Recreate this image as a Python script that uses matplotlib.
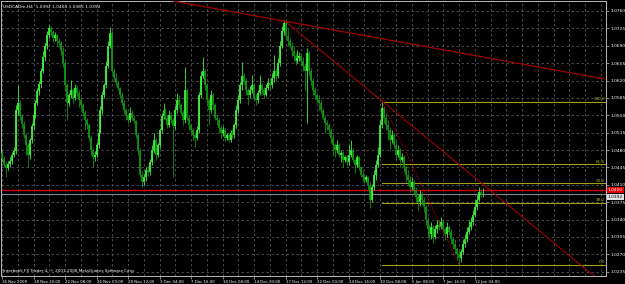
import numpy as np
import matplotlib
matplotlib.use("Agg")
import matplotlib.pyplot as plt
import matplotlib.transforms as mtransforms

# USDCADm H4, prices in pips above 1.0000 (e.g. 462 -> 1.0462)
first_open = 475
closes = [
    462, 450, 444, 452, 458, 470, 478, 560, 575, 548,
    532, 510, 490, 470, 500, 528, 550, 575, 598, 612,
    640, 668, 690, 712, 725, 718, 705, 712, 700, 695,
    680, 655, 610, 575, 590, 600, 585, 605, 595, 580,
    570, 555, 540, 530, 505, 480, 465, 470, 490, 515,
    560, 590, 610, 650, 690, 715, 640, 625, 615, 605,
    590, 575, 560, 548, 540, 555, 545, 538, 510, 480,
    430, 415, 425, 440, 435, 455, 480, 500, 470, 490,
    520, 548, 560, 545, 530, 550, 540, 528, 560, 580,
    570, 555, 540, 600, 545, 530, 520, 510, 505, 520,
    590, 630, 640, 610, 580, 560, 590, 570, 545, 540,
    525, 515, 520, 505, 510, 500, 515, 510, 530, 560,
    580, 610, 630, 620, 600, 590, 600, 610, 585, 580,
    595, 610, 600, 590, 605, 615, 610, 625, 640, 630,
    655, 690, 720, 735, 710, 700, 690, 680, 670, 660,
    665, 670, 660, 650, 640, 675, 640, 620, 600, 590,
    580, 575, 560, 545, 535, 530, 520, 505, 490, 480,
    490, 470, 475, 460, 465, 455, 470, 480, 460, 450,
    465, 445, 430, 425, 420, 425, 410, 380, 405, 430,
    450, 470, 530, 565, 545, 530, 520, 500, 510, 490,
    470, 480, 460, 465, 445, 430, 420, 405, 415, 400,
    385, 375, 390, 380, 365, 340, 320, 310, 325, 305,
    320, 330, 325, 335, 320, 310, 325, 315, 300, 290,
    280, 270, 262, 275, 290, 300, 315, 325, 335, 350,
    365, 380, 395, 392, 392,
]
highs = [
    480, 468, 456, 458, 466, 476, 486, 570, 611, 580,
    552, 538, 515, 495, 505, 535, 556, 580, 605, 620,
    645, 680, 695, 720, 732, 730, 722, 718, 714, 705,
    700, 688, 660, 615, 595, 621, 604, 612, 610, 600,
    587, 575, 560, 545, 535, 510, 485, 478, 496, 522,
    568, 598, 615, 660, 700, 728, 720, 645, 635, 620,
    607, 596, 580, 565, 552, 567, 560, 550, 540, 515,
    485, 438, 432, 446, 448, 462, 490, 514, 505, 495,
    525, 555, 575, 565, 550, 560, 556, 545, 568, 595,
    590, 575, 560, 647, 605, 550, 535, 525, 515, 528,
    597, 640, 667, 645, 615, 585, 600, 595, 575, 550,
    545, 530, 528, 525, 515, 515, 520, 522, 535, 570,
    590, 617, 657, 635, 625, 605, 608, 631, 615, 592,
    600, 631, 615, 606, 612, 625, 620, 635, 671, 645,
    665, 700, 730, 742, 738, 726, 705, 698, 690, 676,
    681, 678, 675, 668, 655, 686, 680, 645, 625, 607,
    595, 590, 581, 565, 550, 540, 535, 525, 510, 495,
    500, 494, 480, 478, 470, 470, 490, 500, 485, 462,
    470, 468, 448, 440, 432, 430, 428, 415, 412, 440,
    460, 486, 540, 577, 568, 555, 540, 525, 520, 515,
    500, 490, 485, 475, 470, 450, 440, 428, 425, 420,
    405, 392, 400, 395, 385, 370, 345, 330, 335, 330,
    330, 339, 340, 345, 340, 325, 335, 330, 320, 305,
    300, 285, 276, 280, 300, 310, 325, 339, 345, 360,
    379, 390, 405, 402, 404,
]
lows = [
    455, 445, 426, 440, 446, 452, 465, 472, 550, 540,
    525, 505, 470, 446, 462, 495, 522, 545, 570, 590,
    605, 635, 660, 684, 705, 710, 698, 700, 692, 688,
    672, 648, 600, 540, 568, 585, 575, 580, 588, 567,
    562, 548, 520, 522, 498, 470, 446, 458, 465, 485,
    514, 552, 585, 605, 645, 685, 635, 618, 608, 600,
    585, 570, 552, 540, 534, 536, 540, 534, 505, 470,
    425, 405, 410, 418, 428, 430, 450, 475, 460, 465,
    485, 515, 542, 540, 525, 526, 535, 426, 522, 555,
    565, 550, 530, 535, 540, 520, 512, 500, 486, 500,
    515, 585, 625, 600, 570, 530, 555, 560, 540, 530,
    515, 504, 508, 498, 500, 496, 497, 505, 505, 524,
    555, 575, 600, 612, 590, 571, 585, 595, 580, 571,
    575, 590, 591, 585, 588, 600, 600, 605, 617, 620,
    625, 650, 685, 712, 705, 690, 685, 670, 660, 651,
    655, 660, 652, 640, 601, 534, 630, 610, 590, 580,
    575, 561, 555, 540, 514, 520, 510, 495, 470, 466,
    475, 465, 455, 446, 455, 448, 450, 465, 455, 434,
    445, 440, 425, 416, 414, 415, 400, 363, 375, 400,
    420, 445, 465, 525, 535, 520, 500, 480, 495, 485,
    460, 465, 446, 455, 435, 415, 410, 395, 400, 390,
    375, 360, 368, 370, 355, 330, 305, 300, 300, 293,
    300, 312, 318, 320, 315, 299, 305, 308, 290, 280,
    270, 258, 249, 255, 270, 285, 295, 310, 318, 330,
    345, 360, 375, 385, 385,
]

date_labels = ["16 Nov 2009", "18 Nov 20:00", "22 Nov 08:00", "26 Nov 00:00",
               "28 Nov 12:00", "3 Dec 04:00", "7 Dec 16:00", "10 Dec 08:00",
               "14 Dec 20:00", "17 Dec 12:00", "22 Dec 00:00", "24 Dec 16:00",
               "30 Dec 08:00", "5 Jan 08:00", "7 Jan 16:00", "12 Jan 04:00"]
price_ticks = [1.0235, 1.0270, 1.0305, 1.0340, 1.0375, 1.0410, 1.0445, 1.0480,
               1.0515, 1.0550, 1.0585, 1.0620, 1.0655, 1.0690, 1.0725, 1.0760]

# drawn objects
red_level = 1.0400
bid = 1.0392
fib_high = (193, 1.0577)
fib_low = (232, 1.0249)
fib_ratios = [0.0, 0.382, 0.5, 0.618, 1.0]
fib_names = ["0.0", "38.2", "50.0", "61.8", "100.0"]
trend_top = [(87, 1.0780), (306, 1.0623)]
trend_down = [(143, 1.0742), (300, 1.0228)]

c = np.array(closes) / 10000 + 1
h = np.array(highs) / 10000 + 1
l = np.array(lows) / 10000 + 1
o = np.concatenate([[first_open / 10000 + 1], c[:-1]])
idx = np.arange(len(c))

fig = plt.figure(figsize=(6.25, 2.84), dpi=100, facecolor="black")
ax = fig.add_axes([1 / 625, 8 / 284, 605 / 625, 275 / 284], facecolor="black")
ax.set_xlim(-0.5, 306.6)
ax.set_ylim(1.02263, 1.07801)

# grid
for gx in range(0, 307, 8):
    ax.axvline(gx, color="#555555", lw=0.6, ls=(0, (3, 3)), zorder=0)
for gy in price_ticks:
    ax.axhline(gy, color="#555555", lw=0.6, ls=(0, (3, 3)), zorder=0)

# candles
up = c >= o
cols = np.where(up, "#3ef03e", "#129412")
ax.vlines(idx, l, h, colors=cols, lw=0.6, zorder=3)
top = np.maximum(o, c)
bot = np.minimum(o, c)
bot = np.where(top - bot < 0.00008, bot - 0.00004, bot)
top = np.where(top - bot < 0.00008, top + 0.00004, top)
ax.vlines(idx, bot, top, colors=cols, lw=1.3, zorder=3)

# horizontal lines
ax.axhline(red_level, color="#d00000", lw=1.0, zorder=2)
ax.axhline(bid, color="#7a8896", lw=0.8, zorder=2)

# fibonacci
span = fib_high[1] - fib_low[1]
for r, name in zip(fib_ratios, fib_names):
    yv = fib_low[1] + r * span
    ax.plot([fib_high[0], 306.6], [yv, yv], color="#a0a020", lw=0.8, zorder=2)
    ax.text(306, yv + 0.0001, name, color="#b0b030", fontsize=3.0,
            ha="right", va="bottom", zorder=5)
ax.plot([fib_high[0], fib_low[0]], [fib_high[1], fib_low[1]],
        color="#b00000", lw=0.7, ls=(0, (1.5, 1.5)), zorder=4)

# trendlines
ax.plot([p[0] for p in trend_top], [p[1] for p in trend_top],
        color="#a00000", lw=0.9, zorder=4)
x0, y0 = trend_down[0]
x1, y1 = trend_down[1]
slope = (y1 - y0) / (x1 - x0)
ax.plot([x0, 320], [y0, y0 + slope * (320 - x0)], color="#a00000", lw=0.8, zorder=4)

# axes styling
for s in ax.spines.values():
    s.set_color("#b8b8b8")
    s.set_linewidth(0.7)
ax.yaxis.tick_right()
ax.set_yticks(price_ticks)
ax.set_yticklabels([f"{v:.4f}" for v in price_ticks])
ax.tick_params(axis="y", colors="#b8b8b8", labelcolor="white", labelsize=3.2,
               length=2, width=0.5, pad=1)
ax.set_xticks(range(0, 16 * len(date_labels), 16))
ax.set_xticklabels(date_labels)
ax.tick_params(axis="x", colors="#b8b8b8", labelcolor="white", labelsize=2.8,
               length=2, width=0.5, pad=0.8)
for t in ax.get_xticklabels():
    t.set_horizontalalignment("left")

trans = mtransforms.blended_transform_factory(ax.transAxes, ax.transData)
ax.text(1.003, red_level, f"{red_level:.4f}", transform=trans, fontsize=3.2,
        color="white", va="center", ha="left", clip_on=False,
        bbox=dict(boxstyle="square,pad=0.25", fc="#e00000", ec="none"))
ax.text(1.003, bid - 0.0007, f"{bid:.4f}", transform=trans, fontsize=3.2,
        color="black", va="center", ha="left", clip_on=False,
        bbox=dict(boxstyle="square,pad=0.25", fc="#e0e0e0", ec="none"))

ax.text(0.004, 0.985, "USDCADm,H4  1.0392 1.0404 1.0385 1.0392",
        transform=ax.transAxes, color="white", fontsize=3.2, va="top", ha="left")
ax.text(0.004, 0.012, "Interbank FX Trader 4, \u00a9 2001-2008 MetaQuotes Software Corp.",
        transform=ax.transAxes, color="white", fontsize=3.0, va="bottom", ha="left")

fig.savefig("out.png", dpi=100, facecolor="black")
